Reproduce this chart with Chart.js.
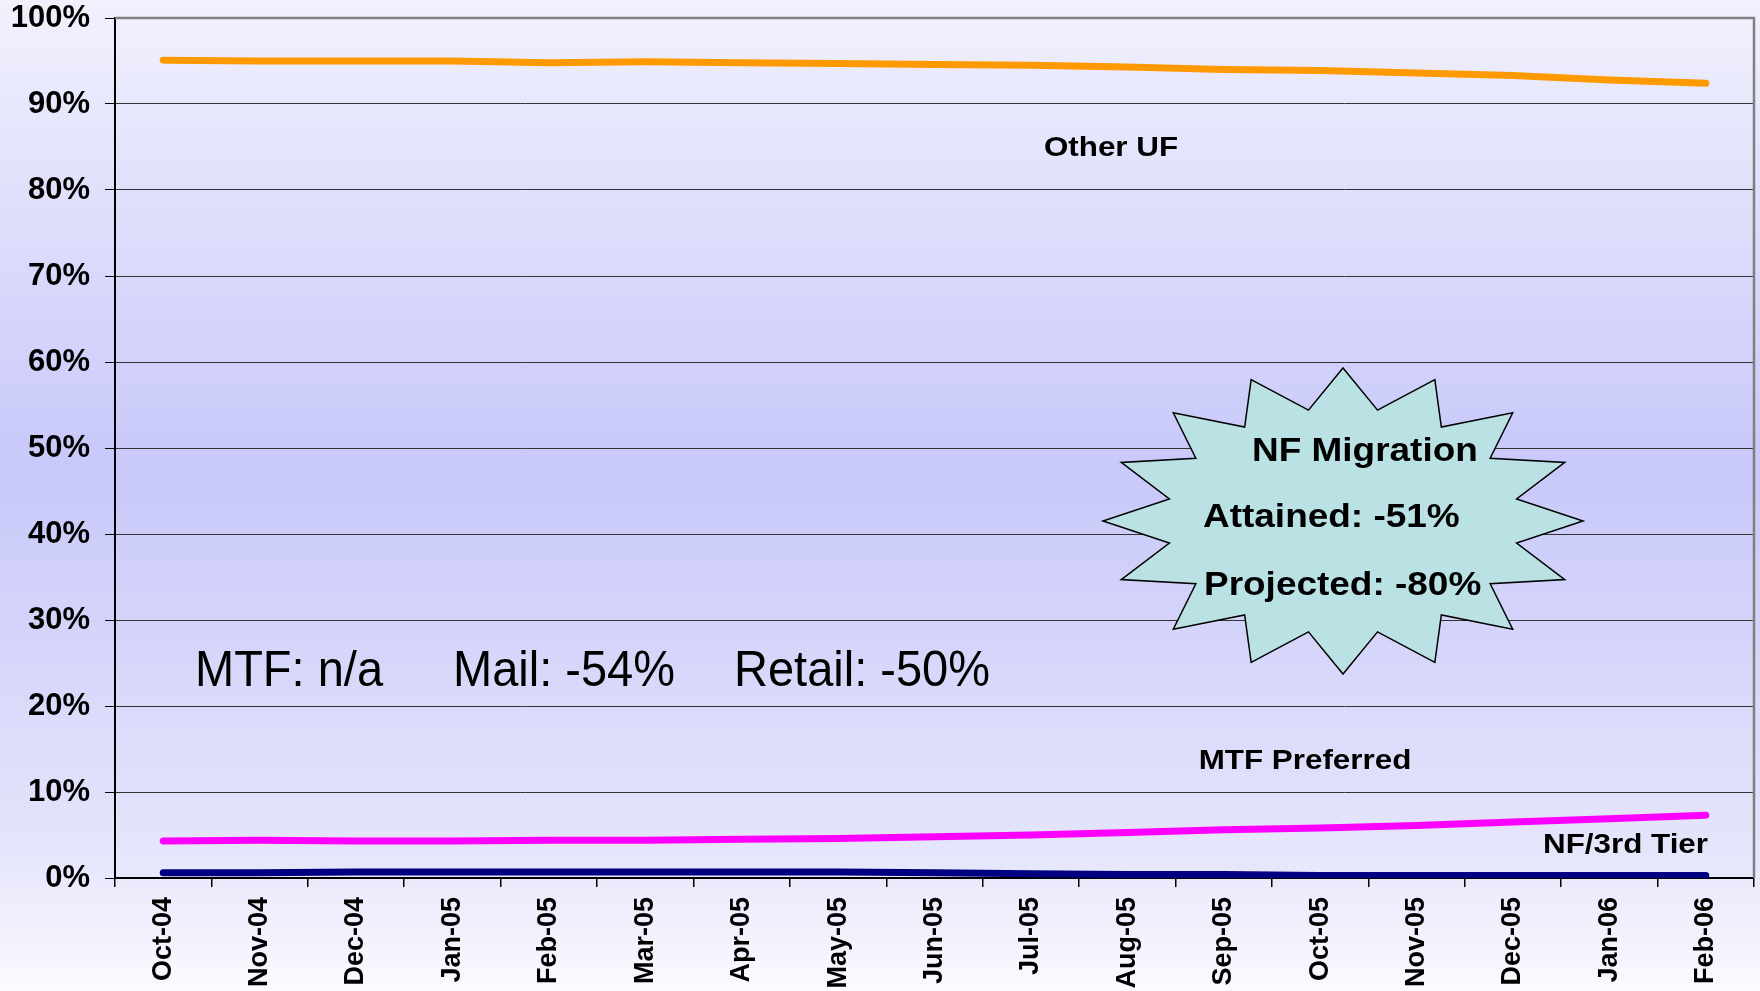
<!DOCTYPE html>
<html>
<head>
<meta charset="utf-8">
<script src="https://cdn.jsdelivr.net/npm/chart.js@4"></script>
<style>
  html, body { margin: 0; padding: 0; background: #f0f0fc; }
  #wrap { width: 1760px; height: 991px; }
</style>
</head>
<body>
<div id="wrap"><canvas id="nfChart" width="1760" height="991"></canvas></div>
<script>
// months on the x axis
const months = ["Oct-04", "Nov-04", "Dec-04", "Jan-05", "Feb-05", "Mar-05", "Apr-05", "May-05",
  "Jun-05", "Jul-05", "Aug-05", "Sep-05", "Oct-05", "Nov-05", "Dec-05", "Jan-06", "Feb-06"];

// share of prescriptions (%)
const otherUF = [95.1, 95.0, 95.0, 95.0, 94.8, 94.9, 94.8, 94.7, 94.6, 94.5, 94.3, 94.0, 93.9, 93.6, 93.3, 92.8, 92.4];
const mtfPreferred = [4.3, 4.4, 4.3, 4.3, 4.4, 4.4, 4.5, 4.6, 4.8, 5.0, 5.3, 5.6, 5.8, 6.1, 6.5, 6.9, 7.3];
const nf3rdTier = [0.6, 0.6, 0.7, 0.7, 0.7, 0.7, 0.7, 0.7, 0.6, 0.5, 0.4, 0.4, 0.3, 0.3, 0.3, 0.3, 0.3];

// y axis ticks
const yMin = 0, yMax = 100, yStep = 10;

// draw text squeezed / stretched horizontally like the original slide
function drawText(ctx, text, x, y, font, sx, align) {
  ctx.save();
  ctx.font = font;
  ctx.fillStyle = "#000";
  ctx.textBaseline = "alphabetic";
  const w = ctx.measureText(text).width * sx;
  let left = x;
  if (align === "center") left = x - w / 2;
  if (align === "right") left = x - w;
  ctx.translate(left, y);
  ctx.scale(sx, 1);
  ctx.fillText(text, 0, 0);
  ctx.restore();
}

// 16 point starburst
function drawStar(ctx, cx, cy, rxOut, ryOut, rxIn, ryIn, n) {
  ctx.save();
  ctx.beginPath();
  for (let i = 0; i < n * 2; i++) {
    const a = (i * Math.PI) / n;
    const rx = i % 2 === 0 ? rxOut : rxIn;
    const ry = i % 2 === 0 ? ryOut : ryIn;
    const px = cx + rx * Math.sin(a);
    const py = cy - ry * Math.cos(a);
    if (i === 0) ctx.moveTo(px, py); else ctx.lineTo(px, py);
  }
  ctx.closePath();
  ctx.fillStyle = "#bae1e3";
  ctx.fill();
  ctx.lineWidth = 1.5;
  ctx.strokeStyle = "#000";
  ctx.stroke();
  ctx.restore();
}

const backgroundPlugin = {
  id: "slideBackground",
  beforeDraw(chart) {
    const { ctx, width, height } = chart;
    const g = ctx.createLinearGradient(0, 0, 0, height);
    g.addColorStop(0, "#f1f1fd");
    g.addColorStop(0.47, "#c8c8fa");
    g.addColorStop(0.85, "#e4e4fb");
    g.addColorStop(1, "#fafaff");
    ctx.save();
    ctx.fillStyle = g;
    ctx.fillRect(0, 0, width, height);
    ctx.restore();
  },
  beforeDatasetsDraw(chart) {
    const { ctx, chartArea } = chart;
    ctx.save();
    ctx.strokeStyle = "#808080";
    ctx.lineWidth = 2.5;
    ctx.beginPath();
    ctx.moveTo(chartArea.left, chartArea.top);
    ctx.lineTo(chartArea.right, chartArea.top);
    ctx.lineTo(chartArea.right, chartArea.bottom);
    ctx.stroke();
    ctx.restore();
  },
  afterDraw(chart) {
    const ctx = chart.ctx;
    const labelFont = "bold 28px 'Liberation Sans', Arial, sans-serif";
    drawText(ctx, "Other UF", 1111, 156, labelFont, 1.12, "center");
    drawText(ctx, "MTF Preferred", 1305, 769, labelFont, 1.12, "center");
    drawText(ctx, "NF/3rd Tier", 1708, 853, labelFont, 1.12, "right");

    const bigFont = "50px 'Liberation Sans', Arial, sans-serif";
    drawText(ctx, "MTF: n/a", 195, 686, bigFont, 0.94, "left");
    drawText(ctx, "Mail: -54%", 453, 686, bigFont, 0.94, "left");
    drawText(ctx, "Retail: -50%", 734, 686, bigFont, 0.94, "left");

    drawStar(ctx, 1343, 521, 240, 153, 177, 113, 16);
    const starFont = "bold 33px 'Liberation Sans', Arial, sans-serif";
    drawText(ctx, "NF Migration", 1252, 461, starFont, 1.12, "left");
    drawText(ctx, "Attained: -51%", 1203, 527, starFont, 1.12, "left");
    drawText(ctx, "Projected: -80%", 1204, 595, starFont, 1.12, "left");
  }
};

const ctx = document.getElementById("nfChart").getContext("2d");
const chart = new Chart(ctx, {
  type: "line",
  data: {
    labels: months,
    datasets: [
      { label: "Other UF", data: otherUF, borderColor: "#ff9900", borderWidth: 7 },
      { label: "MTF Preferred", data: mtfPreferred, borderColor: "#ff00ff", borderWidth: 7 },
      { label: "NF/3rd Tier", data: nf3rdTier, borderColor: "#000080", borderWidth: 7 }
    ]
  },
  options: {
    responsive: false,
    animation: false,
    events: [],
    elements: {
      line: { tension: 0, borderCapStyle: "round", borderJoinStyle: "round", fill: false },
      point: { radius: 0 }
    },
    layout: { padding: { top: 18, right: 6, left: 0, bottom: 0 } },
    plugins: {
      legend: { display: false },
      tooltip: { enabled: false }
    },
    scales: {
      x: {
        type: "category",
        offset: true,
        afterFit: (scale) => { scale.height = 113; },
        grid: {
          offset: true,
          drawOnChartArea: false,
          drawTicks: true,
          tickLength: 9,
          color: "#000",
          lineWidth: 1.5
        },
        border: { color: "#000", width: 2 },
        ticks: {
          autoSkip: false,
          minRotation: 90,
          maxRotation: 90,
          padding: 10,
          color: "#000",
          font: { family: "'Liberation Sans', Arial, sans-serif", size: 27, weight: "bold" }
        }
      },
      y: {
        min: yMin,
        max: yMax,
        afterFit: (scale) => {
          scale.width = 115;
          scale.paddingTop = 0;
          scale.paddingBottom = 0;
        },
        grid: {
          color: "#333",
          lineWidth: 1,
          drawTicks: true,
          tickLength: 10,
          tickColor: "#000"
        },
        border: { color: "#000", width: 2 },
        ticks: {
          stepSize: yStep,
          padding: 15,
          color: "#000",
          font: { family: "'Liberation Sans', Arial, sans-serif", size: 31, weight: "bold" },
          callback: (v) => v + "%"
        }
      }
    }
  },
  plugins: [backgroundPlugin]
});
</script>
</body>
</html>
